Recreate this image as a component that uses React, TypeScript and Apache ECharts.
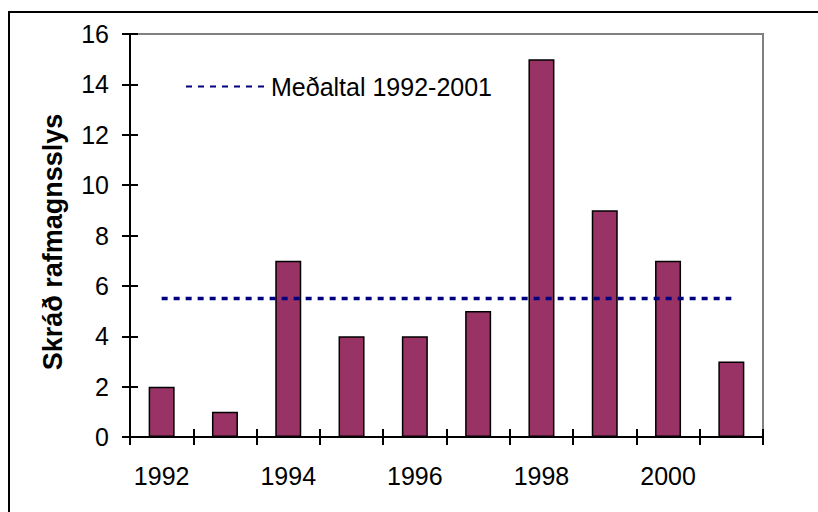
import React, { useEffect, useRef } from "react";
import * as echarts from "echarts";

const years = ["1992", "1993", "1994", "1995", "1996", "1997", "1998", "1999", "2000", "2001"];
const accidents = [2, 1, 7, 4, 4, 5, 15, 9, 7, 3];
const meanValue = 5.5;
const meanSeries = years.map(() => meanValue);
const yTitle = "Skráð rafmagnsslys";
const meanName = "Meðaltal 1992-2001";

export default function App() {
  const ref = useRef<HTMLDivElement>(null);
  useEffect(() => {
    if (!ref.current) return;
    const chart = echarts.init(ref.current, null, { renderer: "svg" });
    const font = "Liberation Sans, Arial, sans-serif";
    chart.setOption({
      animation: false,
      backgroundColor: "#ffffff",
      grid: {
        left: 130,
        top: 34,
        right: 55,
        bottom: 75,
        show: true,
        borderColor: "#808080",
        borderWidth: 2,
      },
      legend: {
        data: [meanName],
        left: 185,
        top: 74,
        padding: 0,
        itemWidth: 80,
        itemHeight: 14,
        itemStyle: { opacity: 0 },
        textStyle: { fontFamily: font, fontSize: 25, color: "#000" },
      },
      graphic: [
        {
          type: "rect",
          shape: { x: 9, y: 12, width: 830, height: 530 },
          style: { fill: "none", stroke: "#000", lineWidth: 2 },
          silent: true,
        },
        {
          type: "text",
          x: 53,
          y: 242,
          rotation: Math.PI / 2,
          style: {
            text: yTitle,
            fontFamily: font,
            fontSize: 27,
            fontWeight: "bold",
            fill: "#000",
            textAlign: "center",
            textVerticalAlign: "middle",
          },
        },
      ],
      xAxis: [
        {
          type: "category",
          data: years,
          boundaryGap: true,
          axisLine: { show: true, lineStyle: { color: "#000", width: 2 } },
          axisTick: { show: true, inside: false, length: 8, interval: 0, lineStyle: { color: "#000", width: 2 } },
          axisLabel: {
            interval: 1,
            margin: 26,
            fontFamily: font,
            fontSize: 25,
            color: "#000",
          },
          splitLine: { show: false },
        },
        {
          type: "category",
          data: years,
          position: "bottom",
          boundaryGap: true,
          axisLine: { show: false },
          axisTick: { show: true, inside: true, length: 8, interval: 0, lineStyle: { color: "#000", width: 2 } },
          axisLabel: { show: false },
          splitLine: { show: false },
        },
      ],
      yAxis: [
        {
          type: "value",
          min: 0,
          max: 16,
          interval: 2,
          axisLine: { show: true, lineStyle: { color: "#000", width: 2 } },
          axisTick: { show: true, inside: false, length: 8, lineStyle: { color: "#000", width: 2 } },
          axisLabel: { margin: 21, fontFamily: font, fontSize: 25, color: "#000" },
          splitLine: { show: false },
        },
        {
          type: "value",
          min: 0,
          max: 16,
          interval: 2,
          position: "left",
          axisLine: { show: false },
          axisTick: { show: true, inside: true, length: 8, lineStyle: { color: "#000", width: 2 } },
          axisLabel: { show: false },
          splitLine: { show: false },
        },
      ],
      series: [
        {
          type: "bar",
          name: "Skráð",
          data: accidents,
          barWidth: 26,
          itemStyle: { color: "#993366", borderColor: "#000", borderWidth: 1.5 },
        },
        {
          type: "line",
          name: meanName,
          data: meanSeries,
          symbol: "none",
          lineStyle: { color: "#000080", width: 3.5, type: [6, 6] },
          itemStyle: { color: "#000080" },
          z: 5,
        },
      ],
    });
    return () => chart.dispose();
  }, []);
  return (
    <div
      ref={ref}
      style={{ position: "fixed", left: 0, top: 0, width: 818, height: 512 }}
    />
  );
}
